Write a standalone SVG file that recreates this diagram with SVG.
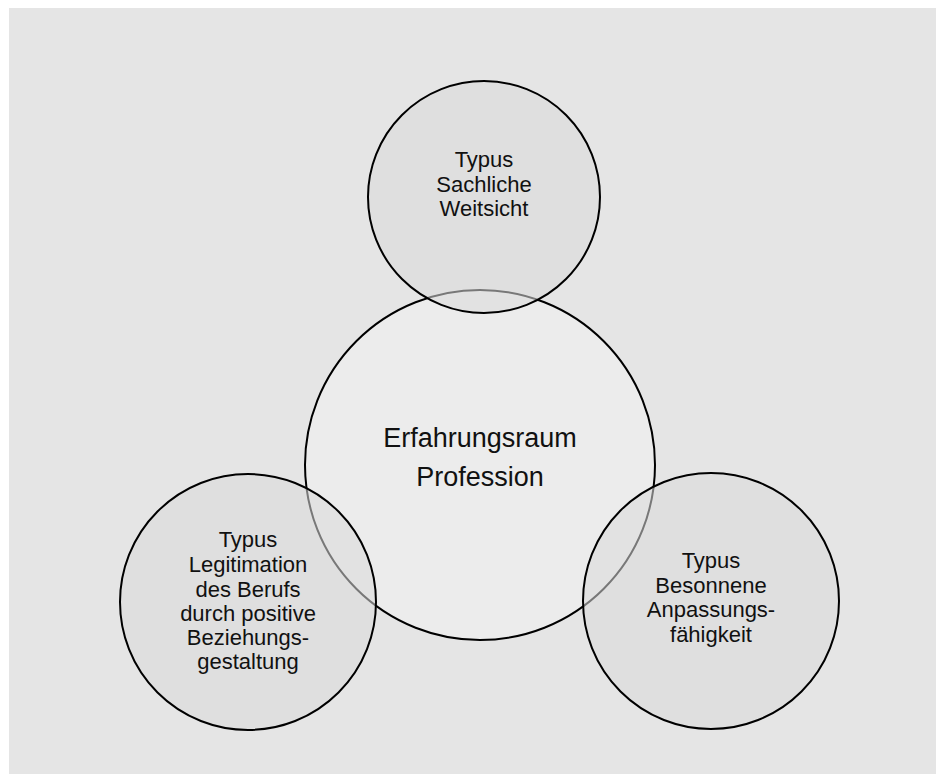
<svg xmlns="http://www.w3.org/2000/svg" width="936" height="774" viewBox="0 0 936 774">
<style>
.outer{fill:#dadada;fill-opacity:0.55;stroke:#000;stroke-width:2}
.center{fill:#ececec;stroke:#000;stroke-width:2}
text{font-family:"Liberation Sans",Arial,sans-serif;fill:#111;text-anchor:middle}
.big{font-size:27px}
.small{font-size:22px}
</style>
<rect x="0" y="0" width="936" height="774" fill="#ffffff"/>
<rect x="9" y="8" width="927" height="766" fill="#e5e5e5"/>
<g id="connectors"/>
<g id="node-center">
<circle class="center" cx="480" cy="465" r="175"/>
<text class="big" x="480" y="447">Erfahrungsraum</text>
<text class="big" x="480" y="486">Profession</text>
</g>
<g id="node-top">
<circle class="outer" cx="484" cy="197" r="116"/>
<text class="small" x="484" y="167">Typus</text>
<text class="small" x="484" y="192">Sachliche</text>
<text class="small" x="484" y="216">Weitsicht</text>
</g>
<g id="node-left">
<circle class="outer" cx="248" cy="602" r="128"/>
<text class="small" x="248" y="547">Typus</text>
<text class="small" x="248" y="572">Legitimation</text>
<text class="small" x="248" y="597">des Berufs</text>
<text class="small" x="248" y="621">durch positive</text>
<text class="small" x="248" y="645">Beziehungs-</text>
<text class="small" x="248" y="669">gestaltung</text>
</g>
<g id="node-right">
<circle class="outer" cx="711" cy="601" r="128"/>
<text class="small" x="711" y="568">Typus</text>
<text class="small" x="711" y="593">Besonnene</text>
<text class="small" x="711" y="617">Anpassungs-</text>
<text class="small" x="711" y="642">fähigkeit</text>
</g>
</svg>
